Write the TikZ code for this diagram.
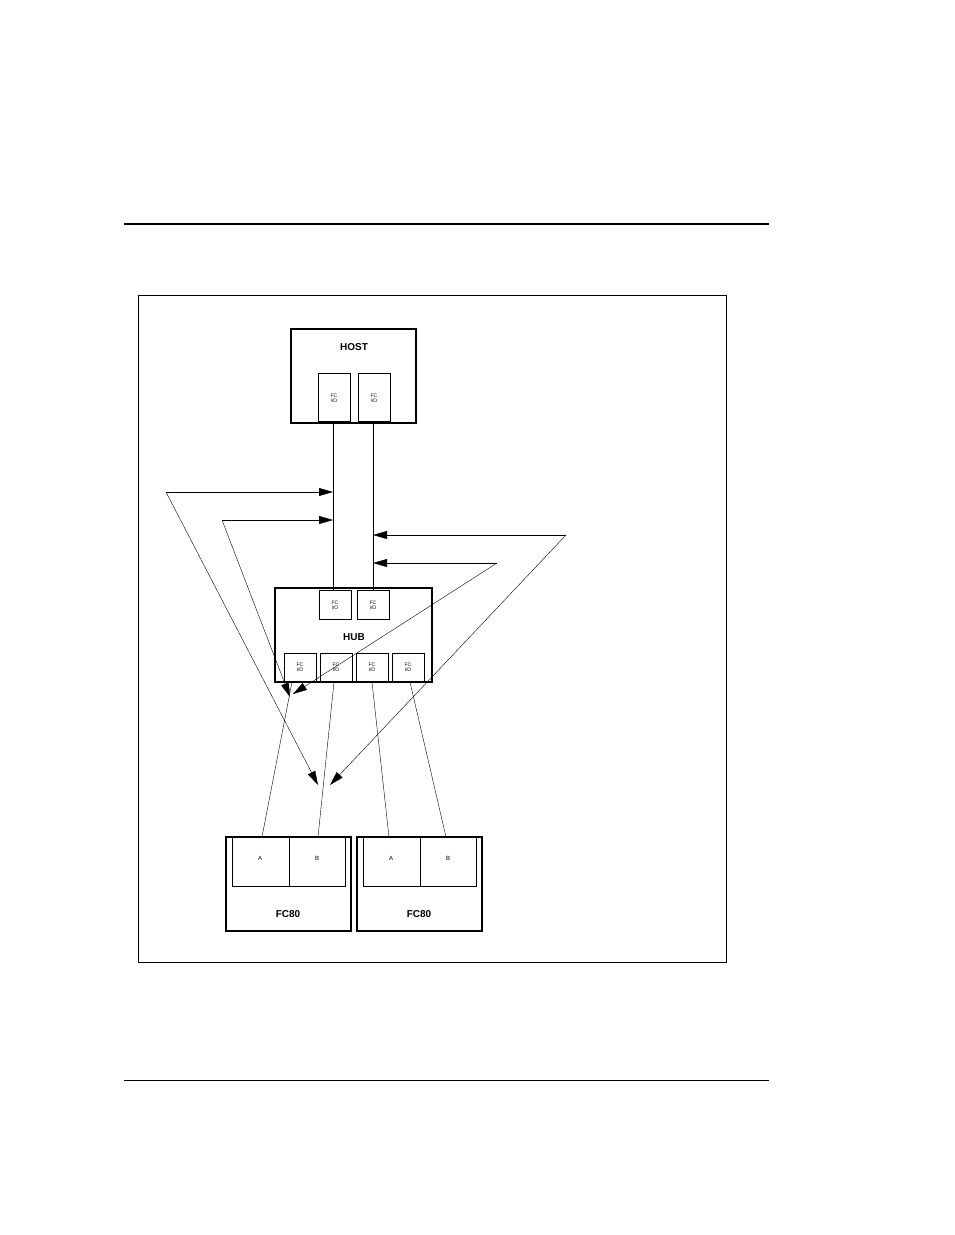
\documentclass[tikz,border=0pt]{standalone}
\usepackage{fontspec}
\setsansfont{Liberation Sans}
\usetikzlibrary{arrows.meta}

\begin{document}
\begin{tikzpicture} [x=1pt, y=-1pt,
  >={Triangle[width = 8pt, length = 14pt]},
  unit box/.style={draw, line width = 1.8pt},
  io box/.style={draw, thin},
  io text/.style={font=\sffamily\fontsize{5}{5}\selectfont, align=center},
  big text/.style={font=\sffamily\bfseries\fontsize{10}{10}\selectfont},
  small text/.style={font=\sffamily\fontsize{6}{6}\selectfont}]

  \useasboundingbox (0,0) rectangle (954,1235);

  % page rules and frame
  \draw [line width = 2.4pt] (124,224) -- (769,224);
  \draw [thin] (124,1080) -- (769,1080);
  \draw [thin] (138,295) rectangle (726,962);

  % host
  \draw [unit box] (291,329) rectangle (416,423);
  \node [big text] (host) at (354,347) {HOST};
  \draw [io box] (318,373) rectangle (350,421);
  \draw [io box] (358,373) rectangle (390,421);
  \node [io text] (hio1) at (334,398) {FC\\I/O};
  \node [io text] (hio2) at (374,398) {FC\\I/O};
  \coordinate (h1) at (333,421);
  \coordinate (h2) at (373,421);

  % hub
  \draw [unit box] (275,588) rectangle (432,682);
  \node [big text] (hub) at (354,637) {HUB};
  \draw [io box] (319,590) rectangle (351,619);
  \draw [io box] (357,590) rectangle (389,619);
  \node [io text] at (335,605) {FC\\I/O};
  \node [io text] at (373,605) {FC\\I/O};
  \coordinate (u1) at (333,590);
  \coordinate (u2) at (373,590);
  \foreach \x/\n in {284/1, 320/2, 356/3, 392/4} {
    \draw [io box] (\x,653) rectangle (\x+32,681);
    \node [io text] at (\x+16,667) {FC\\I/O};
  }
  \coordinate (d1) at (292,682);
  \coordinate (d2) at (334,682);
  \coordinate (d3) at (372,682);
  \coordinate (d4) at (410,682);

  % disk units
  \foreach \x/\n in {226/left, 357/right} {
    \draw [unit box] (\x,837) rectangle (\x+125,931);
    \draw [thin] (\x+6,837) rectangle (\x+119,886);
    \draw [thin] (\x+63,837) -- (\x+63,886);
    \node [small text] at (\x+34,858) {A};
    \node [small text] at (\x+91,858) {B};
    \node [big text] (fc\n) at (\x+62,914) {FC80};
  }
  \coordinate (la) at (262,837);
  \coordinate (lb) at (318,837);
  \coordinate (ra) at (389,837);
  \coordinate (rb) at (446,837);

  % cables
  \draw [thin] (h1) -- (u1);
  \draw [thin] (h2) -- (u2);
  \draw [thin] (d1) -- (la);
  \draw [thin] (d2) -- (lb);
  \draw [thin] (d3) -- (ra);
  \draw [thin] (d4) -- (rb);

  % pointers
  \coordinate (p1) at (166,492);
  \coordinate (p2) at (222,520);
  \coordinate (p3) at (566,535);
  \coordinate (p4) at (497,563);
  \draw [->, thin] (p1) -- (333,492);
  \draw [->, thin] (p1) -- (318,785);
  \draw [->, thin] (p2) -- (333,520);
  \draw [->, thin] (p2) -- (290,697);
  \draw [->, thin] (p3) -- (373,535);
  \draw [->, thin] (p3) -- (330,785);
  \draw [->, thin] (p4) -- (373,563);
  \draw [->, thin] (p4) -- (293,694);

\end{tikzpicture}
\end{document}
